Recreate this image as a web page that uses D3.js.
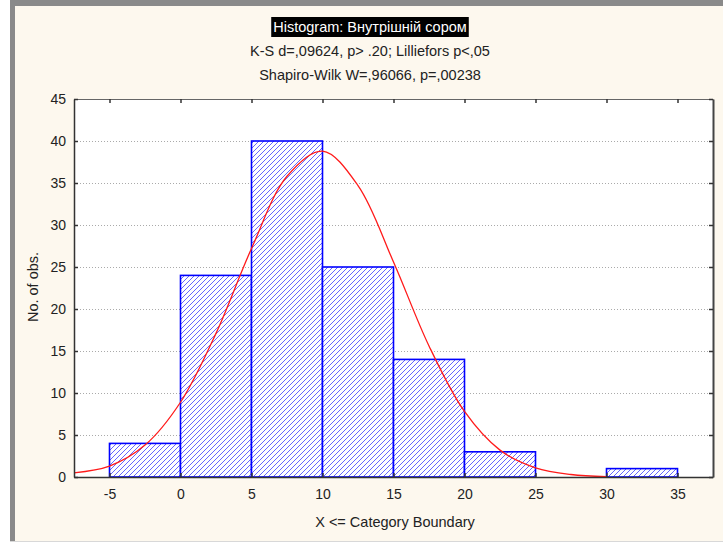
<!DOCTYPE html>
<html>
<head>
<meta charset="utf-8">
<script src="https://cdn.jsdelivr.net/npm/d3@7"></script>
<style>
  body { margin: 0; background: #fff; }
  svg text { font-family: 'Liberation Sans', Arial, sans-serif; }
</style>
</head>
<body>
<div class="chart"></div>
<script>
// histogram data
const binStarts = [-5, 0, 5, 10, 15, 20, 25, 30];
const binCounts = [4, 24, 40, 25, 14, 3, 0, 1];
const binWidth = 5;

// fitted normal curve
const curveX = [-7.5, -5, -2.5, 0, 2.5, 5, 7.5, 10, 12.5, 15, 17.5, 20, 22.5, 25, 27.5, 30];
const curveY = [0.5, 1.3, 3.8, 8.9, 17.1, 27.2, 35.8, 38.8, 34.7, 25.6, 15.6, 7.8, 3.2, 1.1, 0.3, 0.05];

const xTicks = [-5, 0, 5, 10, 15, 20, 25, 30, 35];
const yTicks = [0, 5, 10, 15, 20, 25, 30, 35, 40, 45];

const titleLines = [
    'Histogram: Внутрішній сором',
    'K-S d=,09624, p> .20; Lilliefors p<,05',
    'Shapiro-Wilk W=,96066, p=,00238'
];

const W = 723, H = 545;
const plot = { left: 74, right: 713, top: 99, bottom: 477 };
const labelSize = '14.5px';

const svg = d3.select('.chart')
    .append('svg')
    .attr('width', W)
    .attr('height', H);

// window frame + cream background
svg.append('rect').attr('x', 0).attr('y', 0).attr('width', W).attr('height', H).attr('fill', '#fdf8ee');
svg.append('rect').attr('x', 10).attr('y', 0).attr('width', W - 10).attr('height', 6).attr('fill', '#8a8a8a');
svg.append('rect').attr('x', 10).attr('y', 0).attr('width', 5).attr('height', 541).attr('fill', '#8a8a8a');
svg.append('rect').attr('x', 0).attr('y', 0).attr('width', 10).attr('height', H).attr('fill', '#fff');
svg.append('rect').attr('x', 0).attr('y', 541).attr('width', W).attr('height', 4).attr('fill', '#fff');
svg.append('line').attr('x1', 10).attr('x2', W).attr('y1', 541.5).attr('y2', 541.5).attr('stroke', '#d8d8d8');

// hatch pattern
const defs = svg.append('defs');
const pat = defs.append('pattern')
    .attr('id', 'hatch')
    .attr('patternUnits', 'userSpaceOnUse')
    .attr('width', 5)
    .attr('height', 5);
pat.append('rect').attr('width', 5).attr('height', 5).attr('fill', '#fff');
pat.append('path')
    .attr('d', 'M-1,1 L1,-1 M0,5 L5,0 M4,6 L6,4')
    .attr('stroke', '#3d3dff')
    .attr('stroke-width', 0.8);

// scales
const xScale = d3.scaleLinear().domain([-7.5, 37.5]).range([plot.left, plot.right]);
const yScale = d3.scaleLinear().domain([0, 45]).range([plot.bottom, plot.top]);

// plot background
svg.append('rect')
    .attr('x', plot.left).attr('y', plot.top)
    .attr('width', plot.right - plot.left).attr('height', plot.bottom - plot.top)
    .attr('fill', '#fff');

// dotted gridlines
svg.append('g')
    .selectAll('line')
    .data(yTicks.filter(d => d > 0 && d < 45))
    .enter()
    .append('line')
        .attr('x1', plot.left).attr('x2', plot.right)
        .attr('y1', d => Math.round(yScale(d)) + 0.5)
        .attr('y2', d => Math.round(yScale(d)) + 0.5)
        .attr('stroke', '#aaa')
        .attr('stroke-dasharray', '1,2');

// bars
const bars = binStarts.map((s, i) => ({ start: s, count: binCounts[i] }));
svg.append('g')
    .selectAll('.bar')
    .data(bars.filter(d => d.count > 0))
    .enter()
    .append('rect')
        .attr('class', 'bar')
        .attr('x', d => xScale(d.start))
        .attr('y', d => yScale(d.count))
        .attr('width', d => xScale(d.start + binWidth) - xScale(d.start))
        .attr('height', d => yScale(0) - yScale(d.count))
        .attr('fill', 'url(#hatch)')
        .attr('stroke', '#0000ff')
        .attr('stroke-width', 1.6);

// normal curve
const line = d3.line()
    .x(d => xScale(d[0]))
    .y(d => yScale(d[1]))
    .curve(d3.curveCatmullRom);

svg.append('path')
    .datum(curveX.map((x, i) => [x, curveY[i]]))
    .attr('d', line)
    .attr('fill', 'none')
    .attr('stroke', '#ff1a1a')
    .attr('stroke-width', 1.3);

// axes: ticks inward, mirrored
const axisColor = '#333';
const fmt = d => String(d);
const bottomAxis = svg.append('g')
    .attr('transform', `translate(0, ${plot.bottom})`)
    .call(d3.axisBottom(xScale).tickValues(xTicks).tickFormat(fmt).tickSize(-4).tickSizeOuter(0).tickPadding(12));
const topAxis = svg.append('g')
    .attr('transform', `translate(0, ${plot.top})`)
    .call(d3.axisTop(xScale).tickValues(xTicks).tickSize(-4).tickSizeOuter(0).tickFormat(''));
const leftAxis = svg.append('g')
    .attr('transform', `translate(${plot.left}, 0)`)
    .call(d3.axisLeft(yScale).tickValues(yTicks).tickFormat(fmt).tickSize(-4).tickSizeOuter(0).tickPadding(8));
const rightAxis = svg.append('g')
    .attr('transform', `translate(${plot.right}, 0)`)
    .call(d3.axisRight(yScale).tickValues(yTicks).tickSize(-4).tickSizeOuter(0).tickFormat(''));

[bottomAxis, topAxis, leftAxis, rightAxis].forEach(a => {
    a.selectAll('path').attr('stroke', axisColor).attr('stroke-width', 1.5);
    a.selectAll('line').attr('stroke', axisColor).attr('stroke-width', 1.5);
    a.selectAll('text')
        .attr('fill', '#222')
        .style('font-size', '14px')
        .style('font-family', "'Liberation Sans', Arial, sans-serif");
});
topAxis.select('path').attr('stroke', '#666').attr('stroke-width', 1);
rightAxis.select('path').attr('stroke', '#444').attr('stroke-width', 2);

// titles
const cx = 370;
const tBox = svg.append('g');
const t1 = svg.append('text')
    .attr('x', cx).attr('y', 32)
    .attr('text-anchor', 'middle')
    .attr('fill', '#fff')
    .style('font-size', labelSize)
    .text(titleLines[0]);
const bb = t1.node().getBBox();
tBox.append('rect')
    .attr('x', bb.x - 2).attr('y', 17)
    .attr('width', bb.width + 4).attr('height', 20)
    .attr('fill', '#000');

svg.selectAll('.subtitle')
    .data(titleLines.slice(1))
    .enter()
    .append('text')
        .attr('class', 'subtitle')
        .attr('x', cx)
        .attr('y', (d, i) => 56 + i * 24)
        .attr('text-anchor', 'middle')
        .attr('fill', '#222')
        .style('font-size', labelSize)
        .text(d => d);

// axis labels
svg.append('text')
    .attr('x', 395)
    .attr('y', 527)
    .attr('text-anchor', 'middle')
    .attr('fill', '#222')
    .style('font-size', labelSize)
    .text('X <= Category Boundary');

svg.append('text')
    .attr('transform', `translate(38, 287) rotate(-90)`)
    .attr('text-anchor', 'middle')
    .attr('fill', '#222')
    .style('font-size', labelSize)
    .text('No. of obs.');
</script>
</body>
</html>
